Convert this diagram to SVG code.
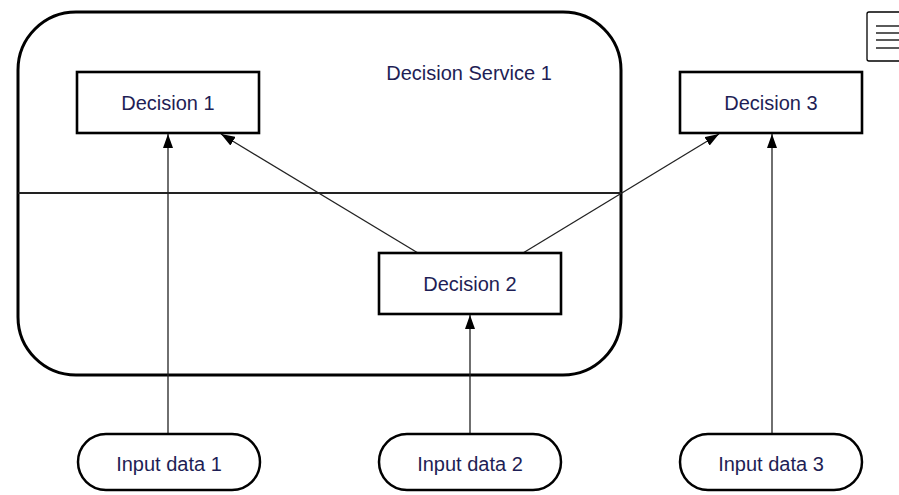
<svg xmlns="http://www.w3.org/2000/svg" width="899" height="495" viewBox="0 0 899 495">
<defs>
<style>
.box{fill:#fff;stroke:#000;stroke-width:2.6}
.pill{fill:#fff;stroke:#000;stroke-width:2.5}
.lbl{font-family:"Liberation Sans",Arial,sans-serif;font-size:20px;fill:#1e1e55;text-anchor:middle}
.conn{stroke:#222;stroke-width:1.3;fill:none;marker-end:url(#arr)}
</style>
<marker id="arr" viewBox="0 0 14 10" refX="14" refY="5" markerWidth="14" markerHeight="10" markerUnits="userSpaceOnUse" orient="auto">
<path d="M0,0 L14,5 L0,10 Z" fill="#000"/>
</marker>
</defs>
<rect width="899" height="495" fill="#fff"/>
<g id="decision-service-1">
<rect x="18" y="12" width="603" height="363" rx="58" ry="58" fill="none" stroke="#000" stroke-width="3"/>
<line x1="18" y1="193" x2="621" y2="193" stroke="#222" stroke-width="2"/>
<text class="lbl" x="469" y="80">Decision Service 1</text>
</g>
<g id="icon">
<rect x="867" y="12" width="40" height="49" rx="2" fill="#fff" stroke="#000" stroke-width="1.3"/>
<line x1="876" y1="26" x2="899" y2="26" stroke="#000" stroke-width="1.3"/>
<line x1="876" y1="33" x2="899" y2="33" stroke="#000" stroke-width="1.3"/>
<line x1="876" y1="40" x2="899" y2="40" stroke="#000" stroke-width="1.3"/>
<line x1="876" y1="48" x2="899" y2="48" stroke="#000" stroke-width="1.3"/>
</g>
<g id="connectors">
<line class="conn" x1="168" y1="434" x2="168" y2="134"/>
<line class="conn" x1="470" y1="434" x2="470" y2="315"/>
<line class="conn" x1="772" y1="434" x2="772" y2="134"/>
<line class="conn" x1="418" y1="253" x2="221" y2="134"/>
<line class="conn" x1="523" y1="253" x2="719" y2="134"/>
</g>
<g id="decision-1">
<rect class="box" x="77" y="72" width="182" height="61"/>
<text class="lbl" x="168" y="110">Decision 1</text>
</g>
<g id="decision-2">
<rect class="box" x="379" y="253" width="182" height="61"/>
<text class="lbl" x="470" y="291">Decision 2</text>
</g>
<g id="decision-3">
<rect class="box" x="680" y="72" width="182" height="61"/>
<text class="lbl" x="771" y="110">Decision 3</text>
</g>
<g id="input-data-1">
<rect class="pill" x="78" y="434" width="182" height="56" rx="28" ry="28"/>
<text class="lbl" x="169" y="471">Input data 1</text>
</g>
<g id="input-data-2">
<rect class="pill" x="379" y="434" width="182" height="56" rx="28" ry="28"/>
<text class="lbl" x="470" y="471">Input data 2</text>
</g>
<g id="input-data-3">
<rect class="pill" x="680" y="434" width="182" height="56" rx="28" ry="28"/>
<text class="lbl" x="771" y="471">Input data 3</text>
</g>
</svg>
